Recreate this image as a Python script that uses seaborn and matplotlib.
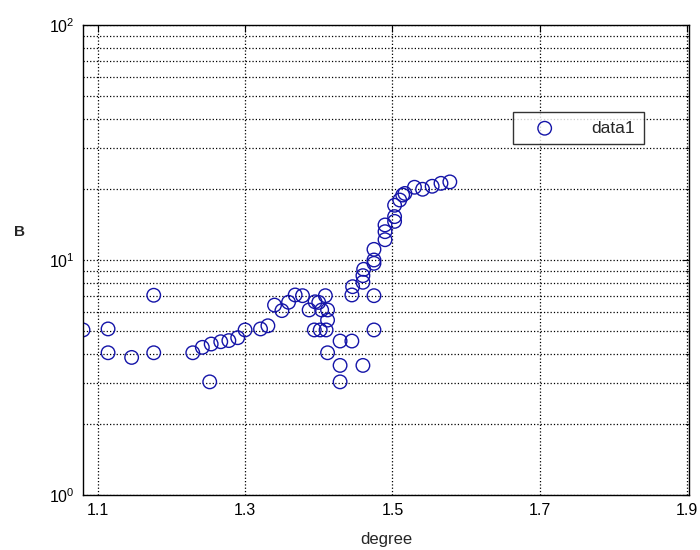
import matplotlib
matplotlib.use('Agg')
import matplotlib.pyplot as plt
import seaborn as sns
import pandas as pd
from matplotlib.ticker import LogLocator, FixedLocator

# valores (degree, B)
degree = [1.080, 1.114, 1.114, 1.146, 1.176, 1.176, 1.229, 1.242, 1.252, 1.254,
          1.267, 1.278, 1.290, 1.300, 1.321, 1.331, 1.340, 1.350, 1.359, 1.368,
          1.378, 1.387, 1.395, 1.404, 1.409, 1.412, 1.394, 1.402, 1.410, 1.412,
          1.400, 1.429, 1.445, 1.412, 1.429, 1.460, 1.429, 1.445, 1.446, 1.475,
          1.475, 1.460, 1.460, 1.461, 1.475, 1.475, 1.475, 1.490, 1.490, 1.490,
          1.503, 1.503, 1.503, 1.510, 1.514, 1.517, 1.530, 1.541, 1.554, 1.566,
          1.578]
B = [5.04, 5.09, 4.03, 3.85, 7.08, 4.03, 4.03, 4.25, 3.03, 4.39,
     4.49, 4.54, 4.67, 5.04, 5.09, 5.25, 6.43, 6.09, 6.61, 7.10,
     7.05, 6.13, 6.64, 6.13, 7.05, 5.55, 5.04, 5.04, 5.04, 4.03,
     6.60, 4.52, 4.52, 6.13, 3.56, 3.56, 3.03, 7.10, 7.70, 7.05,
     5.04, 8.04, 8.58, 9.13, 9.68, 10.0, 11.1, 12.2, 13.2, 14.1,
     14.6, 15.3, 17.1, 18.0, 18.9, 19.2, 20.4, 20.0, 20.6, 21.2,
     21.5]
x_ticks = [1.1, 1.3, 1.5, 1.7, 1.9]

df = pd.DataFrame({'degree': degree, 'B': B})

sns.set_style('white')
plt.rcParams['font.family'] = ['Liberation Sans', 'DejaVu Sans']

fig = plt.figure(figsize=(7, 5.5), dpi=100)
ax = fig.add_axes([0.1186, 0.1, 0.866, 0.8545])

sns.scatterplot(data=df, x='degree', y='B', ax=ax, marker='o', s=95,
                facecolor='none', edgecolor='#1414a8', linewidth=1.0,
                label='data1')

ax.set_yscale('log')
ax.set_ylim(1, 100)
ax.set_xlim(1.08, 1.903)
ax.xaxis.set_major_locator(FixedLocator(x_ticks))
ax.set_xticklabels([f'{t:.1f}' for t in x_ticks])
ax.yaxis.set_major_locator(LogLocator(base=10))
ax.yaxis.set_minor_locator(LogLocator(base=10, subs=range(2, 10)))

ax.grid(True, which='major', axis='both', color='black', linestyle=':', linewidth=0.9)
ax.grid(True, which='minor', axis='y', color='black', linestyle=':', linewidth=0.9)

ax.tick_params(which='both', direction='in', top=True, right=True,
               labelsize=11.5, colors='black', pad=6)
ax.tick_params(which='major', length=5)
ax.tick_params(which='minor', length=3)
for sp in ax.spines.values():
    sp.set_color('black')
    sp.set_linewidth(1.0)

ax.set_xlabel('degree', fontsize=12, labelpad=10)
ax.set_ylabel('B', fontsize=11, fontweight='bold', rotation=0)
ax.yaxis.set_label_coords(-0.105, 0.545)

leg = ax.legend(loc='upper left', bbox_to_anchor=(0.71, 0.815), frameon=True,
                fancybox=False, edgecolor='black', fontsize=12.5,
                handlelength=2.6, handletextpad=1.4, borderpad=0.5,
                borderaxespad=0)
leg.get_frame().set_linewidth(1.0)

plt.savefig('out.png', dpi=100)
